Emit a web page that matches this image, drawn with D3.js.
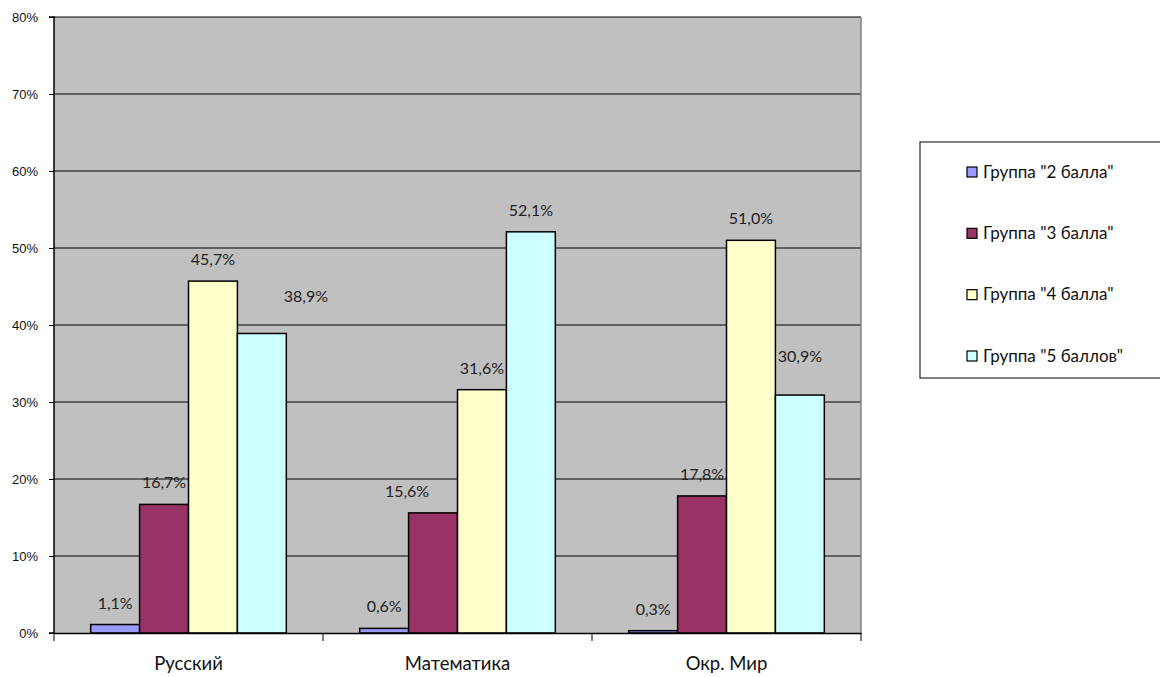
<!DOCTYPE html>
<html lang="ru">
<head>
<meta charset="UTF-8">
<title>Группы по баллам</title>
<script src="https://d3js.org/d3.v7.min.js"></script>
<style>
  * { margin: 0; padding: 0; }
  body { background: #fff; }
</style>
</head>
<body>
<div id="chart"></div>
<script>
// data
const subjects = ["Русский", "Математика", "Окр. Мир"];
const groups = ['Группа "2 балла"', 'Группа "3 балла"', 'Группа "4 балла"', 'Группа "5 баллов"'];
const grade2 = [1.1, 0.6, 0.3];
const grade3 = [16.7, 15.6, 17.8];
const grade4 = [45.7, 31.6, 51.0];
const grade5 = [38.9, 52.1, 30.9];
const yTicks = [0, 10, 20, 30, 40, 50, 60, 70, 80];

const series = [grade2, grade3, grade4, grade5];
const colors = ["#9999ff", "#993366", "#ffffcc", "#ccffff"];

const W = 1160, H = 677;
const m = { left: 54, top: 17, right: 299, bottom: 44 };
const iw = W - m.left - m.right, ih = H - m.top - m.bottom;

const svg = d3.select("#chart").append("svg")
  .attr("width", W).attr("height", H);

const g = svg.append("g").attr("transform", `translate(${m.left},${m.top})`);

const x0 = d3.scaleBand().domain(subjects).range([0, iw]).paddingInner(0).paddingOuter(0);
const x1 = d3.scaleBand().domain(d3.range(groups.length))
  .range([0, x0.bandwidth()]).paddingInner(0).paddingOuter(0.75);
const y = d3.scaleLinear().domain([0, 80]).range([ih, 0]);

// plot background
g.append("rect").attr("width", iw).attr("height", ih).attr("fill", "#c0c0c0");

// gridlines
g.selectAll("line.grid").data(yTicks.slice(1)).enter().append("line")
  .attr("x1", 0).attr("x2", iw)
  .attr("y1", d => y(d)).attr("y2", d => y(d))
  .attr("stroke", "#000").attr("stroke-width", 1);

// right frame of the plot area
g.append("line").attr("x1", iw).attr("x2", iw).attr("y1", 0).attr("y2", ih)
  .attr("stroke", "#808080").attr("stroke-width", 1.5);

// bars
const cat = g.selectAll("g.cat").data(subjects).enter().append("g")
  .attr("transform", d => `translate(${x0(d)},0)`);

// small manual nudges of some data labels, as placed in the original
const labelShift = { "0-3": [44, -15], "1-1": [-26, 0], "2-3": [0, -17] };

series.forEach((vals, si) => {
  cat.append("rect")
    .attr("x", x1(si))
    .attr("y", (d, ci) => y(vals[ci]))
    .attr("width", x1.bandwidth())
    .attr("height", (d, ci) => ih - y(vals[ci]))
    .attr("fill", colors[si])
    .attr("stroke", "#000").attr("stroke-width", 1.5);

  cat.append("text")
    .attr("x", (d, ci) => x1(si) + x1.bandwidth() / 2 + ((labelShift[ci + "-" + si] || [0, 0])[0]))
    .attr("y", (d, ci) => y(vals[ci]) - 16 + ((labelShift[ci + "-" + si] || [0, 0])[1]))
    .attr("text-anchor", "middle")
    .attr("font-family", "Lato, 'Noto Sans', sans-serif")
    .attr("font-size", 16)
    .attr("fill", "#222")
    .text((d, ci) => vals[ci].toFixed(1).replace(".", ",") + "%");
});

// y axis
const yAxis = g.append("g")
  .call(d3.axisLeft(y).tickValues(yTicks).tickSize(5).tickPadding(11).tickFormat(d => d + "%"));
yAxis.select(".domain").attr("stroke", "#000").attr("stroke-width", 1.5).attr("d", `M-5,${ih}H0V0H-5`);
yAxis.selectAll(".tick line").attr("stroke", "#000");
yAxis.selectAll("text").attr("font-family", "'Liberation Sans', Arial, sans-serif")
  .attr("font-size", 13).attr("fill", "#111");

// x axis
const xAxis = g.append("g").attr("transform", `translate(0,${ih})`)
  .call(d3.axisBottom(x0).tickSize(0).tickPadding(24));
xAxis.select(".domain").attr("stroke", "#000").attr("stroke-width", 1.5);
xAxis.selectAll("text").attr("font-family", "Lato, 'Noto Sans', sans-serif")
  .attr("font-size", 18.5).attr("fill", "#111");
// ticks between categories
xAxis.selectAll("line.sep").data(d3.range(subjects.length + 1)).enter().append("line")
  .attr("x1", i => i * x0.bandwidth()).attr("x2", i => i * x0.bandwidth())
  .attr("y1", 0).attr("y2", 8).attr("stroke", "#000");

// legend
const lg = svg.append("g").attr("transform", "translate(920,142)");
lg.append("rect").attr("width", 245).attr("height", 236)
  .attr("fill", "#fff").attr("stroke", "#000").attr("stroke-width", 1);
const ly = d3.scalePoint().domain(d3.range(groups.length)).range([30, 214]);
const li = lg.selectAll("g.li").data(groups).enter().append("g")
  .attr("transform", (d, i) => `translate(47,${ly(i)})`);
li.append("rect").attr("x", 0).attr("y", -5).attr("width", 10).attr("height", 10)
  .attr("fill", (d, i) => colors[i]).attr("stroke", "#000").attr("stroke-width", 1.2);
li.append("text").attr("x", 16).attr("y", 5.5)
  .attr("font-family", "Lato, 'Noto Sans', sans-serif").attr("font-size", 17)
  .attr("fill", "#111").text(d => d);
</script>
</body>
</html>
